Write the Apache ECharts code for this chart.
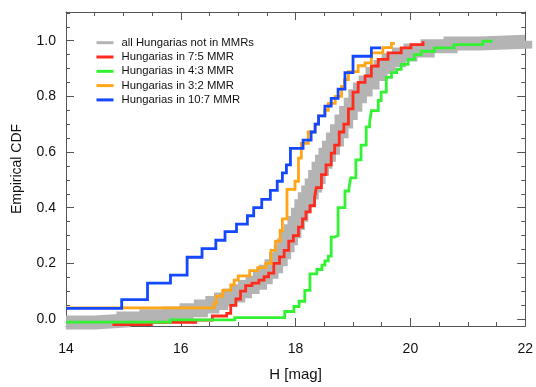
<!DOCTYPE html>
<html><head><meta charset="utf-8">
<script src="https://cdn.jsdelivr.net/npm/echarts@6/dist/echarts.min.js"></script>
<style>html,body{margin:0;padding:0;background:#fff}#c{width:536px;height:387px}</style>
</head><body><div id="c"></div>
<script>
const seriesNames = ['all Hungarias not in MMRs','Hungarias in 7:5 MMR','Hungarias in 4:3 MMR','Hungarias in 3:2 MMR','Hungarias in 10:7 MMR'];
const seriesColors = ['#b4b4b4','#ff2b1c','#33f233','#ffa516','#1448ff'];

// [H mag, empirical CDF] step points
const allNotMMR = [[14.0,-0.012],[14.5,-0.006],[15.0,0.002],[15.4,0.01],[15.8,0.02],[16.1,0.032],[16.35,0.045],[16.55,0.058],[16.7,0.07],[16.85,0.085],[17.0,0.10],[17.12,0.115],[17.25,0.13],[17.38,0.15],[17.48,0.17],[17.58,0.19],[17.66,0.215],[17.74,0.24],[17.8,0.265],[17.86,0.29],[17.92,0.315],[17.98,0.345],[18.04,0.375],[18.1,0.405],[18.16,0.43],[18.22,0.455],[18.28,0.48],[18.34,0.51],[18.4,0.54],[18.46,0.565],[18.52,0.59],[18.58,0.615],[18.65,0.645],[18.72,0.675],[18.8,0.71],[18.88,0.74],[18.96,0.77],[19.04,0.80],[19.12,0.825],[19.22,0.85],[19.34,0.88],[19.48,0.905],[19.62,0.93],[19.8,0.95],[20.0,0.965],[20.3,0.98],[20.7,0.99],[21.2,0.996],[22.0,1.0]];

const mmr7to5 = [[14.81,-0.02],[15.48,-0.012],[16.26,-0.004],[16.55,0.011],[16.80,0.02],[16.87,0.049],[16.96,0.072],[17.04,0.10],[17.13,0.12],[17.24,0.129],[17.36,0.14],[17.45,0.152],[17.53,0.165],[17.62,0.20],[17.72,0.223],[17.80,0.247],[17.88,0.28],[17.96,0.30],[18.05,0.33],[18.12,0.36],[18.18,0.385],[18.25,0.407],[18.33,0.436],[18.36,0.472],[18.45,0.519],[18.53,0.554],[18.62,0.596],[18.68,0.625],[18.76,0.672],[18.84,0.70],[18.92,0.755],[19.00,0.815],[19.09,0.85],[19.21,0.873],[19.32,0.909],[19.44,0.933],[19.61,0.956],[19.84,0.974],[20.01,0.986],[20.22,0.998]];

const mmr4to3 = [[14.0,-0.011],[15.82,-0.003],[16.94,0.005],[17.81,0.027],[17.97,0.045],[18.06,0.064],[18.16,0.103],[18.25,0.162],[18.37,0.178],[18.46,0.194],[18.51,0.209],[18.57,0.226],[18.62,0.294],[18.67,0.30],[18.74,0.40],[18.86,0.46],[18.93,0.472],[18.96,0.507],[19.05,0.572],[19.14,0.625],[19.23,0.69],[19.29,0.708],[19.32,0.749],[19.44,0.785],[19.49,0.815],[19.58,0.868],[19.67,0.885],[19.76,0.897],[19.84,0.915],[19.96,0.933],[20.07,0.95],[20.19,0.962],[20.42,0.974],[20.76,0.986],[21.26,0.998],[21.43,0.998]];

const mmr3to2 = [[14.0,0.04],[16.58,0.056],[16.62,0.082],[16.73,0.103],[16.87,0.123],[16.93,0.14],[17.00,0.155],[17.20,0.174],[17.34,0.185],[17.48,0.20],[17.57,0.247],[17.65,0.28],[17.73,0.318],[17.77,0.36],[17.85,0.466],[17.99,0.495],[18.05,0.578],[18.10,0.631],[18.22,0.672],[18.34,0.70],[18.40,0.73],[18.51,0.75],[18.57,0.775],[18.69,0.80],[18.80,0.836],[18.85,0.86],[18.92,0.889],[19.09,0.91],[19.21,0.92],[19.32,0.956],[19.52,0.975],[19.67,0.99],[19.73,0.99]];

const mmr10to7 = [[14.0,0.038],[14.97,0.07],[15.42,0.129],[15.82,0.158],[16.11,0.222],[16.37,0.253],[16.61,0.283],[16.77,0.314],[16.97,0.341],[17.16,0.371],[17.27,0.40],[17.41,0.43],[17.56,0.462],[17.68,0.495],[17.77,0.525],[17.84,0.554],[17.91,0.613],[18.13,0.643],[18.27,0.672],[18.34,0.70],[18.40,0.73],[18.51,0.765],[18.62,0.793],[18.74,0.826],[18.86,0.885],[19.00,0.944],[19.32,0.974],[19.49,0.974]];

const seriesData = [allNotMMR, mmr7to5, mmr4to3, mmr3to2, mmr10to7];
const lineWidths = [14, 2.8, 2.8, 2.8, 2.8];

const xMin = 14, xMax = 22, xStep = 2;
const yMin = -0.025, yMax = 1.103;

const FONT = 'Liberation Sans';
const axisColor = '#555';

const chart = echarts.init(document.getElementById('c'), null, {renderer:'canvas'});
const baseX = {
  type:'value', min:xMin, max:xMax, interval:xStep,
  axisLine:{show:true, onZero:false, lineStyle:{color:axisColor, width:1}},
  axisTick:{show:true, inside:true, length:8, lineStyle:{color:axisColor}},
  minorTick:{show:true, splitNumber:4, length:4, lineStyle:{color:axisColor}},
  splitLine:{show:false}
};
const baseY = {
  type:'value', min:yMin, max:yMax, splitNumber:5,
  axisLine:{show:true, onZero:false, lineStyle:{color:axisColor, width:1}},
  axisTick:{show:true, inside:true, length:8, lineStyle:{color:axisColor}},
  minorTick:{show:true, splitNumber:4, length:4, lineStyle:{color:axisColor}},
  splitLine:{show:false}
};
const isMajorY = v => Math.abs(v/0.2 - Math.round(v/0.2)) < 1e-6;

chart.setOption({
  animation:false,
  backgroundColor:'#fff',
  grid:{left:66, right:8, top:12, bottom:57, containLabel:false},
  legend:{
    orient:'vertical', left:96.5, top:35.7, padding:0, itemGap:0.3,
    icon:'rect', itemWidth:17, itemHeight:3,
    textStyle:{fontFamily:FONT, fontSize:11.3, color:'#111', lineHeight:14, padding:[0,0,0,3]},
    data:seriesNames
  },
  xAxis:[
    Object.assign({}, baseX, {position:'bottom', name:'H [mag]', nameLocation:'middle', nameGap:41,
      nameTextStyle:{fontFamily:FONT, fontSize:15, color:'#111'},
      axisLabel:{show:true, margin:16, fontFamily:FONT, fontSize:14, color:'#111'}}),
    Object.assign({}, baseX, {position:'top', axisLabel:{show:false}})
  ],
  yAxis:[
    Object.assign({}, baseY, {position:'left', name:'Empirical CDF', nameLocation:'middle', nameGap:42,
      nameTextStyle:{fontFamily:FONT, fontSize:14, color:'#111'},
      axisLabel:{show:true, margin:10, fontFamily:FONT, fontSize:14, color:'#111',
        showMinLabel:true, showMaxLabel:true,
        formatter: v => isMajorY(v) ? (Math.round(v*10)/10).toFixed(1) : ''}}),
    Object.assign({}, baseY, {position:'right', axisLabel:{show:false}})
  ],
  series: seriesNames.map((n,i)=>({
    name:n, type:'line', step:'end', xAxisIndex:0, yAxisIndex:0,
    data:seriesData[i], showSymbol:false, symbol:'none',
    color:seriesColors[i],
    lineStyle:{color:seriesColors[i], width:lineWidths[i], join:'miter', cap:'butt'},
    z: 2 + i
  }))
});
</script></body></html>
